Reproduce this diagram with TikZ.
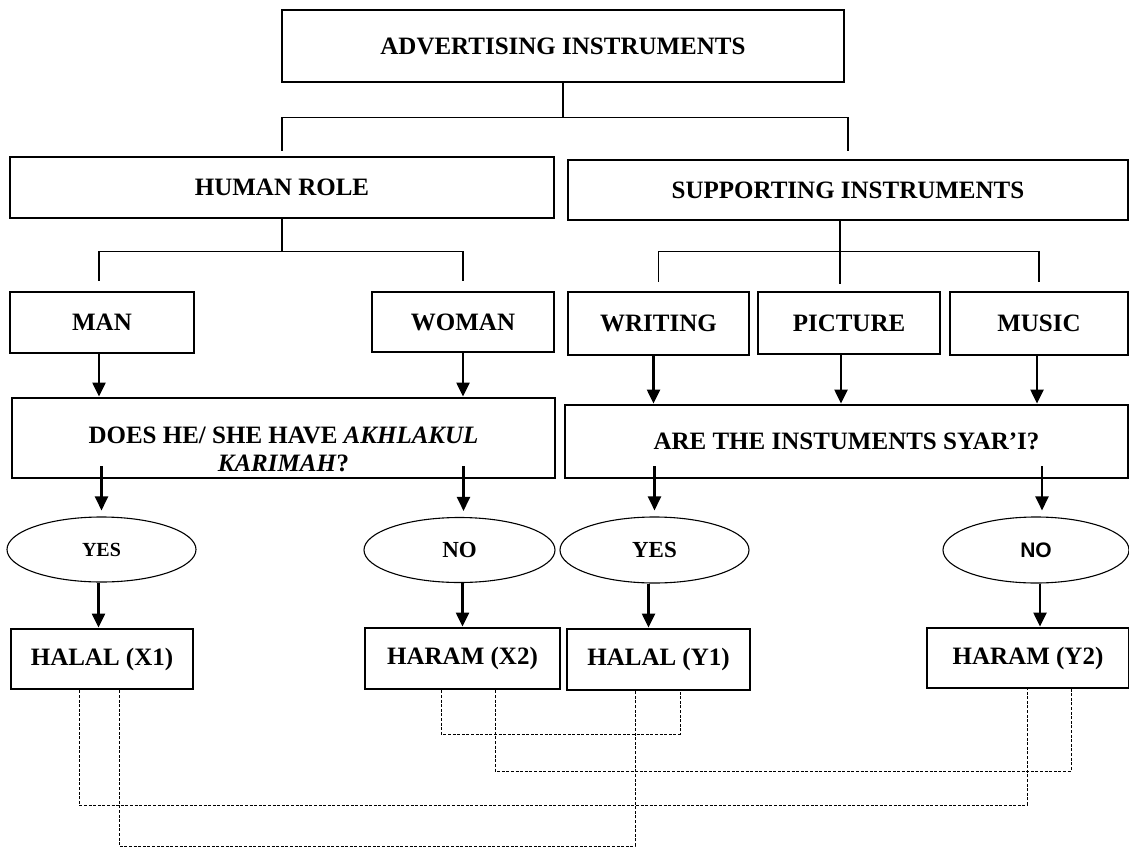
\documentclass[tikz,border=0pt]{standalone}
\usepackage{fontspec}
\setmainfont{Liberation Serif}
\newfontfamily\sansf{Liberation Sans}
\usetikzlibrary{arrows.meta,shapes.geometric}
\begin{document}
\begin{tikzpicture}[x=1pt,y=-1pt,
  box/.style={draw,line width=2.8pt,rectangle,inner sep=0pt,align=center,
    font=\fontsize{25}{28}\selectfont\bfseries},
  oval/.style={draw,line width=1.1pt,ellipse,inner sep=0pt,
    font=\fontsize{23}{26}\selectfont\bfseries},
  link/.style={line width=1.8pt},
  arr/.style={line width=2.2pt,-{Triangle[length=14pt,width=13pt]}},
  dsh/.style={line width=0.9pt,dash pattern=on 3pt off 1.6pt}]
\useasboundingbox (0,0) rectangle (1129,851);
% boxes
\node[box,minimum width=562pt,minimum height=72pt] (top) at (563,46) {ADVERTISING INSTRUMENTS};
\node[box,minimum width=544pt,minimum height=61pt] (hr) at (282,187.5) {HUMAN ROLE};
\node[box,minimum width=560pt,minimum height=60pt] (sup) at (848,190) {SUPPORTING INSTRUMENTS};
\node[box,minimum width=184pt,minimum height=61pt] (man) at (102,322.5) {MAN};
\node[box,minimum width=182pt,minimum height=60pt] (woman) at (463,322) {WOMAN};
\node[box,minimum width=181pt,minimum height=63pt] (writing) at (658.5,323.5) {WRITING};
\node[box,minimum width=182pt,minimum height=62pt] (picture) at (849,323) {PICTURE};
\node[box,minimum width=178pt,minimum height=63pt] (music) at (1039,323.5) {MUSIC};
\node[box,minimum width=543pt,minimum height=80pt,text height=66pt,text depth=0pt] (q1) at (283.5,438)
  {DOES HE/ SHE HAVE \textit{AKHLAKUL}\\\textit{KARIMAH}?};
\node[box,minimum width=563pt,minimum height=73pt] (q2) at (846.5,441.5) {ARE THE INSTUMENTS SYAR’I?};
% ellipses
\node[oval,minimum width=189pt,minimum height=65pt,font=\fontsize{20}{24}\selectfont\bfseries] (yes1) at (101.5,549.5) {YES};
\node[oval,minimum width=191pt,minimum height=65pt] (no1) at (459.5,550) {NO};
\node[oval,minimum width=189pt,minimum height=66pt] (yes2) at (654.5,550) {YES};
\node[oval,minimum width=186pt,minimum height=66pt,font=\sansf\fontsize{21}{24}\selectfont\bfseries] (no2) at (1036,550) {NO};
% results
\node[box,minimum width=182pt,minimum height=60pt] (x1) at (102,659) {HALAL (X1)};
\node[box,minimum width=195pt,minimum height=61pt] (x2) at (462.5,658.5) {HARAM (X2)};
\node[box,minimum width=183pt,minimum height=61pt] (y1) at (658.5,659.5) {HALAL (Y1)};
\node[box,minimum width=202pt,minimum height=60pt] (y2) at (1028,658) {HARAM (Y2)};
% tree links
\draw[link] (top.south) -- ++(0,34) coordinate (b0);
\draw[link] ([yshift=5pt]hr.north) |- (b0) -| ([yshift=8pt]sup.north);
\draw[link] (hr.south) -- ++(0,32) coordinate (b1);
\draw[link] ([xshift=-3pt,yshift=10pt]man.north) |- (b1) -| ([yshift=10pt]woman.north);
\draw[link] ([xshift=-8pt]sup.south) -- ++(0,63) coordinate (pv);
\coordinate (b2) at ([xshift=-8pt,yshift=-30pt]sup.south);
\draw[link] ([yshift=9pt]writing.north) |- (b2) -| ([yshift=9pt]music.north);
% arrows
\draw[arr] ([xshift=-3pt]man.south) coordinate (a1) -- (a1 |- q1.north);
\draw[arr] (woman.south) -- (woman.south |- q1.north);
\draw[arr] ([xshift=-5pt]writing.south) coordinate (a2) -- (a2 |- q2.north);
\draw[arr] ([xshift=-8pt]picture.south) coordinate (a3) -- (a3 |- q2.north);
\draw[arr] ([xshift=-2pt]music.south) coordinate (a4) -- (a4 |- q2.north);
\coordinate (e1) at (yes1.north);
\coordinate (e2) at ([xshift=4pt]no1.north);
\coordinate (e3) at (yes2.north);
\coordinate (e4) at ([xshift=6pt]no2.north);
\coordinate (q1s) at ([yshift=13pt]q1.south);
\coordinate (q2s) at ([yshift=13pt]q2.south);
\draw[arr] (q1s -| e1) -- ([yshift=6pt]e1);
\draw[arr] (q1s -| e2) -- ([yshift=6pt]e2);
\draw[arr] (q2s -| e3) -- ([yshift=6pt]e3);
\draw[arr] (q2s -| e4) -- ([yshift=6pt]e4);
\draw[arr] ([xshift=-3pt]yes1.south) coordinate (f1) -- (f1 |- x1.north);
\draw[arr] ([xshift=3pt]no1.south) coordinate (f2) -- (f2 |- x2.north);
\draw[arr] ([xshift=-6pt]yes2.south) coordinate (f3) -- (f3 |- y1.north);
\draw[arr] ([xshift=4pt]no2.south) coordinate (f4) -- (f4 |- y2.north);
% dashed links
\coordinate (L1) at (0,734);
\coordinate (L2) at (0,771);
\coordinate (L3) at (0,805);
\coordinate (L4) at (0,846);
\draw[dsh] ([xshift=-21.5pt]x2.south) coordinate (d1) -- (d1 |- L1) -| ([xshift=21.5pt]y1.south);
\draw[dsh] ([xshift=32.5pt]x2.south) coordinate (d2) -- (d2 |- L2) -| ([xshift=43pt]y2.south);
\draw[dsh] ([xshift=-23pt]x1.south) coordinate (d3) -- (d3 |- L3) -| ([xshift=-1pt]y2.south);
\draw[dsh] ([xshift=17pt]x1.south) coordinate (d4) -- (d4 |- L4) -| ([xshift=-23.5pt]y1.south);
\end{tikzpicture}
\end{document}
